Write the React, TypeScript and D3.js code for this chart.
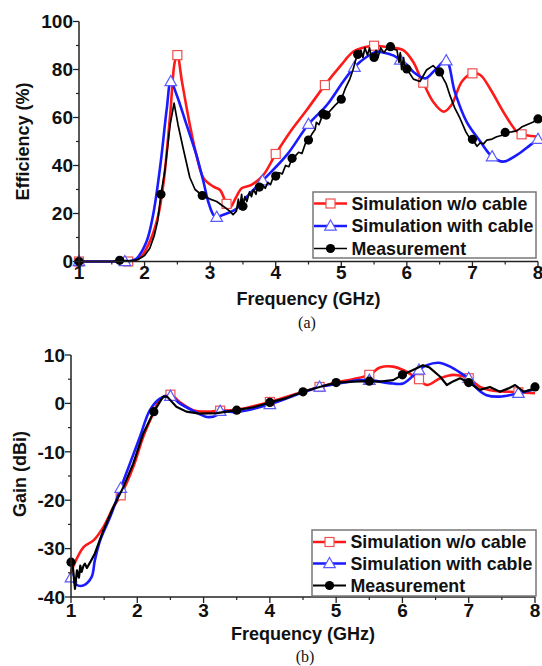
import React from "react";
import * as d3 from "d3";

// ---------- Efficiency (%) vs frequency (GHz) ----------
const effSimNoCableF = [1.0, 1.5, 1.75, 1.85, 1.95, 2.08, 2.21, 2.29, 2.39, 2.46, 2.5, 2.57, 2.69, 2.79, 2.9, 3.05, 3.15, 3.25, 3.3, 3.4, 3.48, 3.63, 3.81, 4.0, 4.22, 4.47, 4.75, 5.0, 5.18, 5.39, 5.5, 5.74, 5.95, 6.1, 6.2, 6.25, 6.4, 6.56, 6.68, 6.84, 7.0, 7.12, 7.27, 7.47, 7.68, 7.75, 7.9, 8.0];
const effSimNoCableV = [0, 0, 0, 0.5, 2, 8.3, 19.4, 33, 61, 83, 86, 75, 57, 44.4, 34.7, 31.2, 29.8, 24, 22.4, 27, 30.5, 31.9, 36, 44.8, 54, 63, 73.5, 81.9, 87.4, 89.5, 89.9, 89.2, 88, 83, 77, 74.5, 66.6, 62.4, 65.2, 75, 78.4, 77.7, 72, 62.4, 54, 53, 52.3, 52];
const effSimNoCableMarks = [1.0, 1.75, 2.5, 3.25, 4.0, 4.75, 5.5, 6.25, 7.0, 7.75];

const effSimCableF = [1.0, 1.5, 1.7, 1.8, 1.88, 2.03, 2.13, 2.24, 2.34, 2.4, 2.49, 2.64, 2.79, 2.9, 2.97, 3.05, 3.1, 3.2, 3.3, 3.4, 3.56, 3.8, 4.17, 4.5, 4.78, 5.03, 5.2, 5.39, 5.54, 5.64, 5.8, 5.9, 6.0, 6.1, 6.28, 6.43, 6.6, 6.73, 6.91, 7.12, 7.3, 7.47, 7.68, 7.88, 8.0];
const effSimCableV = [0, 0, 0, 0.3, 1.3, 8.3, 19.4, 40, 64, 75, 69.4, 57, 44.4, 33, 25, 19.4, 18.5, 19.5, 20.5, 22, 27, 33.7, 44.4, 57.2, 65.2, 75, 81, 85.3, 87.4, 87.1, 85.8, 84, 82, 79, 76.3, 79.8, 83.7, 70.8, 58.3, 50, 43.7, 41.6, 44.4, 48.5, 51];
const effSimCableMarks = [1.0, 1.7, 2.4, 3.1, 3.8, 4.5, 5.2, 5.9, 6.6, 7.3, 8.0];

const effMeasF = [1.0, 1.5, 1.62, 1.8, 1.9, 2.0, 2.08, 2.15, 2.2, 2.25, 2.31, 2.39, 2.45, 2.51, 2.59, 2.69, 2.77, 2.88, 3.0, 3.1, 3.2, 3.3, 3.35, 3.4, 3.43, 3.45, 3.48, 3.5, 3.53, 3.56, 3.6, 3.63, 3.66, 3.7, 3.72, 3.75, 3.8, 3.84, 3.88, 3.92, 3.96, 4.0, 4.05, 4.1, 4.15, 4.2, 4.25, 4.3, 4.35, 4.4, 4.45, 4.5, 4.55, 4.6, 4.62, 4.66, 4.72, 4.77, 4.82, 4.87, 4.92, 4.96, 5.0, 5.06, 5.13, 5.18, 5.22, 5.25, 5.3, 5.33, 5.36, 5.4, 5.43, 5.46, 5.5, 5.53, 5.56, 5.6, 5.65, 5.7, 5.75, 5.8, 5.85, 5.88, 5.9, 5.92, 5.95, 5.97, 6.0, 6.1, 6.2, 6.3, 6.4, 6.46, 6.5, 6.6, 6.66, 6.73, 6.81, 6.9, 6.96, 7.0, 7.07, 7.12, 7.17, 7.22, 7.3, 7.37, 7.44, 7.5, 7.6, 7.68, 7.75, 7.83, 7.92, 8.0];
const effMeasV = [0, 0, 0.5, 0.3, 0.8, 2.5, 5.5, 11, 17, 28, 38, 57, 66, 57, 47, 35, 30, 27.5, 26, 25, 23, 21, 19.5, 21, 26, 22, 28, 23, 27, 25, 29, 27, 30, 28, 31.5, 31, 32, 30.5, 33, 32, 35, 35.6, 37, 36.5, 40, 39.5, 43, 44, 45.5, 45, 49, 50.6, 53, 55, 58, 57, 61.5, 61, 62.5, 64, 65.5, 66.5, 67.6, 72, 76, 80, 84, 86.3, 88, 85, 89, 86, 89, 85, 85, 88, 85, 89, 87, 89, 89.5, 88.5, 88, 83, 87, 80, 85, 79, 80.2, 76, 75, 79.8, 81.6, 80, 79, 74, 69, 64, 59.7, 54, 51.3, 50.9, 48, 49.5, 49, 50.6, 51, 52, 52.5, 53.8, 54, 54.5, 56, 57, 58, 59.4];
const effMeasMarks = [1.0, 1.62, 2.25, 2.88, 3.5, 3.75, 4.0, 4.25, 4.5, 4.72, 4.77, 5.0, 5.25, 5.5, 5.75, 6.0, 6.5, 7.0, 7.5, 8.0];

// ---------- Gain (dBi) vs frequency (GHz) ----------
const gainSimNoCableF = [1.0, 1.03, 1.19, 1.34, 1.49, 1.64, 1.75, 1.94, 2.09, 2.24, 2.34, 2.5, 2.64, 2.84, 3.05, 3.25, 3.5, 4.0, 4.5, 4.75, 5.0, 5.25, 5.5, 5.66, 5.86, 6.01, 6.19, 6.25, 6.37, 6.57, 6.77, 7.0, 7.17, 7.37, 7.62, 7.75, 8.0];
const gainSimNoCableV = [-35, -33.8, -29.7, -28.3, -25.5, -21.4, -19, -13.1, -6.9, -2.1, 0.7, 1.8, 0.3, -1.4, -1.7, -1.5, -1.3, 0.3, 2.4, 3.4, 4.3, 5.0, 5.9, 7.4, 7.6, 6.9, 5.5, 5.0, 3.8, 5.2, 5.9, 5.2, 3.4, 2.6, 2.4, 2.3, 2.1];
const gainSimNoCableMarks = [1.75, 2.5, 3.25, 4.0, 4.75, 5.5, 6.25, 7.0, 7.75];

const gainSimCableF = [1.0, 1.05, 1.1, 1.19, 1.31, 1.36, 1.44, 1.59, 1.75, 1.89, 2.04, 2.19, 2.34, 2.5, 2.64, 2.84, 3.05, 3.2, 3.25, 3.5, 4.0, 4.5, 4.75, 5.0, 5.36, 5.5, 5.86, 6.01, 6.19, 6.25, 6.37, 6.54, 6.72, 6.92, 7.0, 7.12, 7.27, 7.47, 7.75, 7.97, 8.0];
const gainSimCableV = [-36, -37, -37.6, -37.6, -35.9, -32.4, -28.3, -23.5, -17.5, -12.4, -6.9, -1.4, 1.0, 1.5, 0, -1.5, -2.8, -2.4, -1.6, -1.8, -0.2, 2.3, 3.4, 4.0, 4.8, 4.8, 4.1, 4.1, 6.1, 6.9, 7.9, 8.4, 7.6, 5.9, 5.2, 3.1, 1.7, 1.4, 2.1, 2.8, 2.9];
const gainSimCableMarks = [1.0, 1.75, 2.5, 3.25, 4.0, 4.75, 5.5, 6.25, 7.0, 7.75];

const gainMeasF = [1.0, 1.03, 1.06, 1.09, 1.12, 1.14, 1.16, 1.19, 1.21, 1.24, 1.29, 1.36, 1.49, 1.64, 1.79, 1.94, 2.09, 2.25, 2.39, 2.45, 2.59, 2.74, 2.94, 3.2, 3.5, 3.75, 4.0, 4.25, 4.5, 4.75, 5.0, 5.25, 5.5, 5.66, 5.86, 6.0, 6.16, 6.31, 6.41, 6.57, 6.67, 6.77, 6.87, 7.0, 7.17, 7.32, 7.47, 7.6, 7.7, 7.83, 7.93, 8.0];
const gainMeasV = [-32.8, -34, -38.3, -34.5, -36, -33.5, -34.8, -33.5, -33.1, -34, -32.8, -31, -26.2, -21.4, -17.3, -12.4, -6.2, -1.7, 1.4, 1.4, -0.7, -1.7, -2.1, -2.0, -1.4, -0.8, 0.2, 1.1, 2.4, 3.4, 4.3, 4.5, 4.6, 4.5, 4.8, 5.9, 6.9, 7.9, 7.4, 5.5, 3.8, 4.6, 5.2, 4.3, 2.8, 3.4, 2.4, 3.1, 3.8, 2.4, 2.8, 3.4];
const gainMeasMarks = [1.0, 2.25, 3.5, 4.0, 4.5, 5.0, 5.5, 6.0, 7.0, 8.0];

const legendLabels = ["Simulation w/o cable", "Simulation with cable", "Measurement"];
const xTicks = [1, 2, 3, 4, 5, 6, 7, 8];
const xMinor = [1.5, 2.5, 3.5, 4.5, 5.5, 6.5, 7.5];
const effTicks = [0, 20, 40, 60, 80, 100];
const effMinor = [10, 30, 50, 70, 90];
const gainTicks = [-40, -30, -20, -10, 0, 10];
const gainMinor = [-35, -25, -15, -5, 5];

const FONT = "'Liberation Sans', Arial, Helvetica, sans-serif";
const RED = "#ff1a1a";
const BLUE = "#1a1aff";
const BLACK = "#000000";

type Kind = "square" | "triangle" | "circle";
type Series = { f: number[]; v: number[]; marks: number[]; color: string; kind: Kind; width: number; smooth: boolean };

function Marker({ kind, x, y }: { kind: Kind; x: number; y: number }) {
  if (kind === "square")
    return <rect x={x - 4.5} y={y - 4.5} width={9} height={9} fill="#fff" stroke="#ee5050" strokeWidth={1.2} />;
  if (kind === "triangle")
    return (
      <path
        d={`M${x},${y - 6} L${x + 5.8},${y + 4.2} L${x - 5.8},${y + 4.2} Z`}
        fill="#fff"
        stroke="#5a5aff"
        strokeWidth={1.2}
      />
    );
  return <circle cx={x} cy={y} r={4.6} fill={BLACK} />;
}

type PanelProps = {
  x0: number; x1: number; yTop: number; yBot: number;
  yDomain: [number, number]; yTicks: number[]; yMinor: number[];
  series: Series[]; yTitle: string; yTitleX: number; yTitleY: number;
  tickBase: number; titleBase: number; caption: string; captionX: number; captionBase: number;
  legend: { x: number; y: number; w: number; h: number; rows: number[] };
};

function Panel(p: PanelProps) {
  const xs = d3.scaleLinear().domain([1, 8]).range([p.x0, p.x1]);
  const ys = d3.scaleLinear().domain(p.yDomain).range([p.yBot, p.yTop]);
  const axisColor = "#222";
  return (
    <g>
      {p.series.map((s, i) => {
        const pts: [number, number][] = s.f.map((f, j) => [f, s.v[j]]);
        const line = d3
          .line<[number, number]>()
          .x((d) => xs(d[0]))
          .y((d) => ys(d[1]))
          .curve(s.smooth ? d3.curveCatmullRom.alpha(0.5) : d3.curveLinear);
        const marked = pts.filter((d) => s.marks.some((m) => Math.abs(m - d[0]) < 1e-6));
        return (
          <g key={i}>
            <path d={line(pts) || ""} fill="none" stroke={s.color} strokeWidth={s.width} strokeLinejoin="round" />
            {marked.map((d, k) => (
              <Marker key={k} kind={s.kind} x={xs(d[0])} y={ys(d[1])} />
            ))}
          </g>
        );
      })}

      {/* axes */}
      <line x1={p.x0} x2={p.x0} y1={p.yTop} y2={p.yBot} stroke={axisColor} strokeWidth={1.5} />
      <line x1={p.x0} x2={p.x1} y1={p.yBot} y2={p.yBot} stroke={axisColor} strokeWidth={1.5} />
      {p.yTicks.map((t) => (
        <g key={"yt" + t}>
          <line x1={p.x0 - 6} x2={p.x0} y1={ys(t)} y2={ys(t)} stroke={axisColor} strokeWidth={1.3} />
          <text x={p.x0 - 6} y={ys(t)} dy="0.36em" textAnchor="end" fontFamily={FONT} fontWeight="bold" fontSize={19} fill="#111">
            {t}
          </text>
        </g>
      ))}
      {p.yMinor.map((t) => (
        <line key={"ym" + t} x1={p.x0 - 3} x2={p.x0} y1={ys(t)} y2={ys(t)} stroke={axisColor} strokeWidth={1.2} />
      ))}
      {xTicks.map((t) => (
        <g key={"xt" + t}>
          <line x1={xs(t)} x2={xs(t)} y1={p.yBot} y2={p.yBot + 6} stroke={axisColor} strokeWidth={1.3} />
          <text x={xs(t)} y={p.tickBase} textAnchor="middle" fontFamily={FONT} fontWeight="bold" fontSize={19} fill="#111">
            {t}
          </text>
        </g>
      ))}
      {xMinor.map((t) => (
        <line key={"xm" + t} x1={xs(t)} x2={xs(t)} y1={p.yBot} y2={p.yBot + 3} stroke={axisColor} strokeWidth={1.2} />
      ))}

      {/* titles */}
      <text
        transform={`translate(${p.yTitleX},${p.yTitleY}) rotate(-90)`}
        textAnchor="middle"
        fontFamily={FONT}
        fontWeight="bold"
        fontSize={18}
        fill="#111"
      >
        {p.yTitle}
      </text>
      <text x={(p.x0 + p.x1) / 2} y={p.titleBase} textAnchor="middle" fontFamily={FONT} fontWeight="bold" fontSize={18} fill="#111">
        Frequency (GHz)
      </text>
      <text x={p.captionX} y={p.captionBase} textAnchor="middle" fontFamily="'Liberation Serif', 'Times New Roman', serif" fontSize={16} fill="#111">
        {p.caption}
      </text>

      {/* legend */}
      <rect x={p.legend.x} y={p.legend.y} width={p.legend.w} height={p.legend.h} fill="#fff" stroke="#777" strokeWidth={1.5} />
      {p.series.map((s, i) => {
        const ry = p.legend.rows[i];
        const lx = p.legend.x;
        return (
          <g key={"lg" + i}>
            <line x1={lx + 1} x2={lx + 34} y1={ry} y2={ry} stroke={s.color} strokeWidth={s.width} />
            <Marker kind={s.kind} x={lx + 17.5} y={ry} />
            <text x={lx + 38.5} y={ry} dy="0.36em" fontFamily={FONT} fontWeight="bold" fontSize={17.8} fill="#111">
              {legendLabels[i]}
            </text>
          </g>
        );
      })}
    </g>
  );
}

export default function App() {
  const effSeries: Series[] = [
    { f: effSimNoCableF, v: effSimNoCableV, marks: effSimNoCableMarks, color: RED, kind: "square", width: 2.6, smooth: true },
    { f: effSimCableF, v: effSimCableV, marks: effSimCableMarks, color: BLUE, kind: "triangle", width: 2.6, smooth: true },
    { f: effMeasF, v: effMeasV, marks: effMeasMarks, color: BLACK, kind: "circle", width: 1.7, smooth: false },
  ];
  const gainSeries: Series[] = [
    { f: gainSimNoCableF, v: gainSimNoCableV, marks: gainSimNoCableMarks, color: RED, kind: "square", width: 2.6, smooth: true },
    { f: gainSimCableF, v: gainSimCableV, marks: gainSimCableMarks, color: BLUE, kind: "triangle", width: 2.6, smooth: true },
    { f: gainMeasF, v: gainMeasV, marks: gainMeasMarks, color: BLACK, kind: "circle", width: 2.2, smooth: false },
  ];
  return (
    <svg width={542} height={666} style={{ position: "absolute", left: 0, top: 0, background: "#fff" }}>
      <rect width={542} height={666} fill="#fff" />
      <Panel
        x0={79} x1={538} yTop={21.5} yBot={261.5}
        yDomain={[0, 100]} yTicks={effTicks} yMinor={effMinor}
        series={effSeries} yTitle="Efficiency (%)" yTitleX={29} yTitleY={141.5}
        tickBase={279} titleBase={305} caption="(a)" captionX={307} captionBase={328}
        legend={{ x: 313, y: 192, w: 223, h: 66, rows: [203.5, 226, 248.5] }}
      />
      <Panel
        x0={71} x1={535} yTop={355} yBot={597}
        yDomain={[-40, 10]} yTicks={gainTicks} yMinor={gainMinor}
        series={gainSeries} yTitle="Gain (dBi)" yTitleX={26} yTitleY={474}
        tickBase={617} titleBase={640} caption="(b)" captionX={305} captionBase={662}
        legend={{ x: 312, y: 530, w: 224, h: 66, rows: [542, 563.5, 585.5] }}
      />
    </svg>
  );
}
